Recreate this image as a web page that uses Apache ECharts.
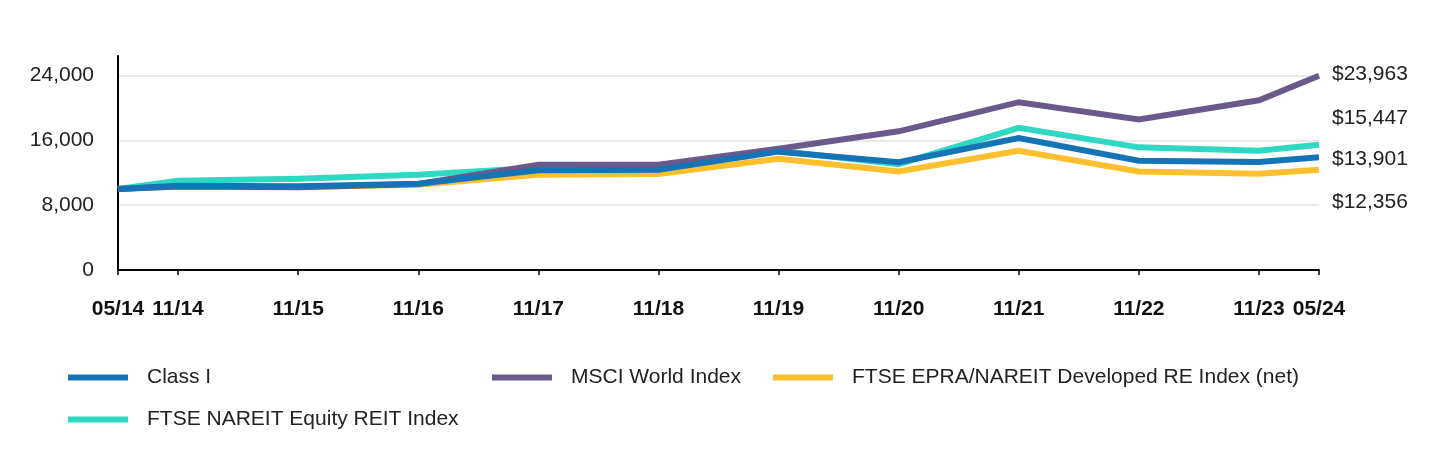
<!DOCTYPE html>
<html>
<head>
<meta charset="utf-8">
<script src="https://cdn.jsdelivr.net/npm/echarts@6/dist/echarts.min.js"></script>
<style>
  html, body { margin: 0; padding: 0; background: #fff; }
  #chart { width: 1440px; height: 468px; }
</style>
</head>
<body>
<div id="chart"></div>
<script>
// ---- Data ----
const dateLabels = ['05/14','11/14','11/15','11/16','11/17','11/18','11/19','11/20','11/21','11/22','11/23','05/24'];
const classI           = [10000, 10390, 10330, 10640, 12310, 12370, 14600, 13300, 16290, 13480, 13320, 13901];
const msciWorld        = [10000, 10300, 10220, 10600, 12990, 12990, 14970, 17110, 20700, 18560, 20940, 23963];
const ftseNareitEquity = [10000, 11009, 11250, 11750, 12600, 12500, 14720, 13050, 17530, 15130, 14720, 15447];
const ftseEpraNareit   = [10000, 10300, 10250, 10510, 11750, 11840, 13730, 12150, 14720, 12160, 11880, 12356];
const yTickValues = [0, 8000, 16000, 24000];
const seriesNames = ['Class I', 'MSCI World Index', 'FTSE EPRA/NAREIT Developed RE Index (net)', 'FTSE NAREIT Equity REIT Index'];

// months elapsed since first date, derived from the MM/YY labels
function monthIndex(lbl) {
  const [mm, yy] = lbl.split('/').map(Number);
  return (2000 + yy) * 12 + mm;
}
const base = monthIndex(dateLabels[0]);
const xVals = dateLabels.map(l => monthIndex(l) - base);
const labelByX = {};
xVals.forEach((x, i) => { labelByX[x] = dateLabels[i]; });

const pair = arr => arr.map((v, i) => [xVals[i], v]);
const fmt = v => '$' + Math.round(v).toLocaleString('en-US');

const FONT = '"Liberation Sans", Arial, Helvetica, sans-serif';
const FS = 21;
const colors = {
  'Class I': '#1474b6',
  'MSCI World Index': '#6a5a8c',
  'FTSE EPRA/NAREIT Developed RE Index (net)': '#fcc02e',
  'FTSE NAREIT Equity REIT Index': '#2fd8c2'
};

function lineSeries(name, data, dy, z) {
  return {
    name, type: 'line', data: pair(data), z,
    symbol: 'none', showSymbol: false,
    lineStyle: { width: 6, color: colors[name], cap: 'butt', join: 'miter' },
    itemStyle: { color: colors[name] },
    endLabel: {
      show: true, distance: 13, offset: [0, dy],
      formatter: p => fmt(p.value[1]),
      fontFamily: FONT, fontSize: FS, color: '#222'
    },
    emphasis: { disabled: true }
  };
}

function legendItem(name, left, top) {
  return {
    data: [{ name, icon: 'rect' }],
    left, top, padding: 0,
    itemWidth: 60, itemHeight: 6,
    selectedMode: false,
    textStyle: { fontFamily: FONT, fontSize: FS, color: '#222', padding: [0, 0, 0, 14] }
  };
}

const chart = echarts.init(document.getElementById('chart'), null, { renderer: 'canvas' });
chart.setOption({
  animation: false,
  backgroundColor: '#fff',
  grid: { left: 118, right: 121, top: 56, bottom: 198, containLabel: false },
  legend: [
    legendItem(seriesNames[0], 68, 367),
    legendItem(seriesNames[1], 492, 367),
    legendItem(seriesNames[2], 773, 367),
    legendItem(seriesNames[3], 68, 409)
  ],
  xAxis: {
    type: 'value', min: xVals[0], max: xVals[xVals.length - 1],
    axisLine: { show: true, onZero: false, lineStyle: { color: '#000', width: 2 } },
    axisTick: { show: true, length: 5, customValues: xVals, lineStyle: { color: '#000', width: 1.5 } },
    axisLabel: {
      customValues: xVals, margin: 29,
      formatter: v => labelByX[v] || '',
      fontFamily: FONT, fontSize: FS, fontWeight: 'bold', color: '#111'
    },
    splitLine: { show: false }
  },
  yAxis: {
    type: 'value', min: 0, max: 26400, interval: 8000,
    axisLine: { show: true, lineStyle: { color: '#000', width: 2 } },
    axisTick: { show: false },
    axisLabel: {
      customValues: yTickValues, margin: 24,
      formatter: v => v.toLocaleString('en-US'),
      fontFamily: FONT, fontSize: FS, color: '#222'
    },
    splitLine: { show: true, showMinLine: false, showMaxLine: false, lineStyle: { color: '#e2e2e2', width: 1.5 } }
  },
  series: [
    lineSeries(seriesNames[3], ftseNareitEquity, -27, 2),
    lineSeries(seriesNames[2], ftseEpraNareit, 32, 3),
    lineSeries(seriesNames[1], msciWorld, -2, 4),
    lineSeries(seriesNames[0], classI, 2, 5)
  ]
});
</script>
</body>
</html>
